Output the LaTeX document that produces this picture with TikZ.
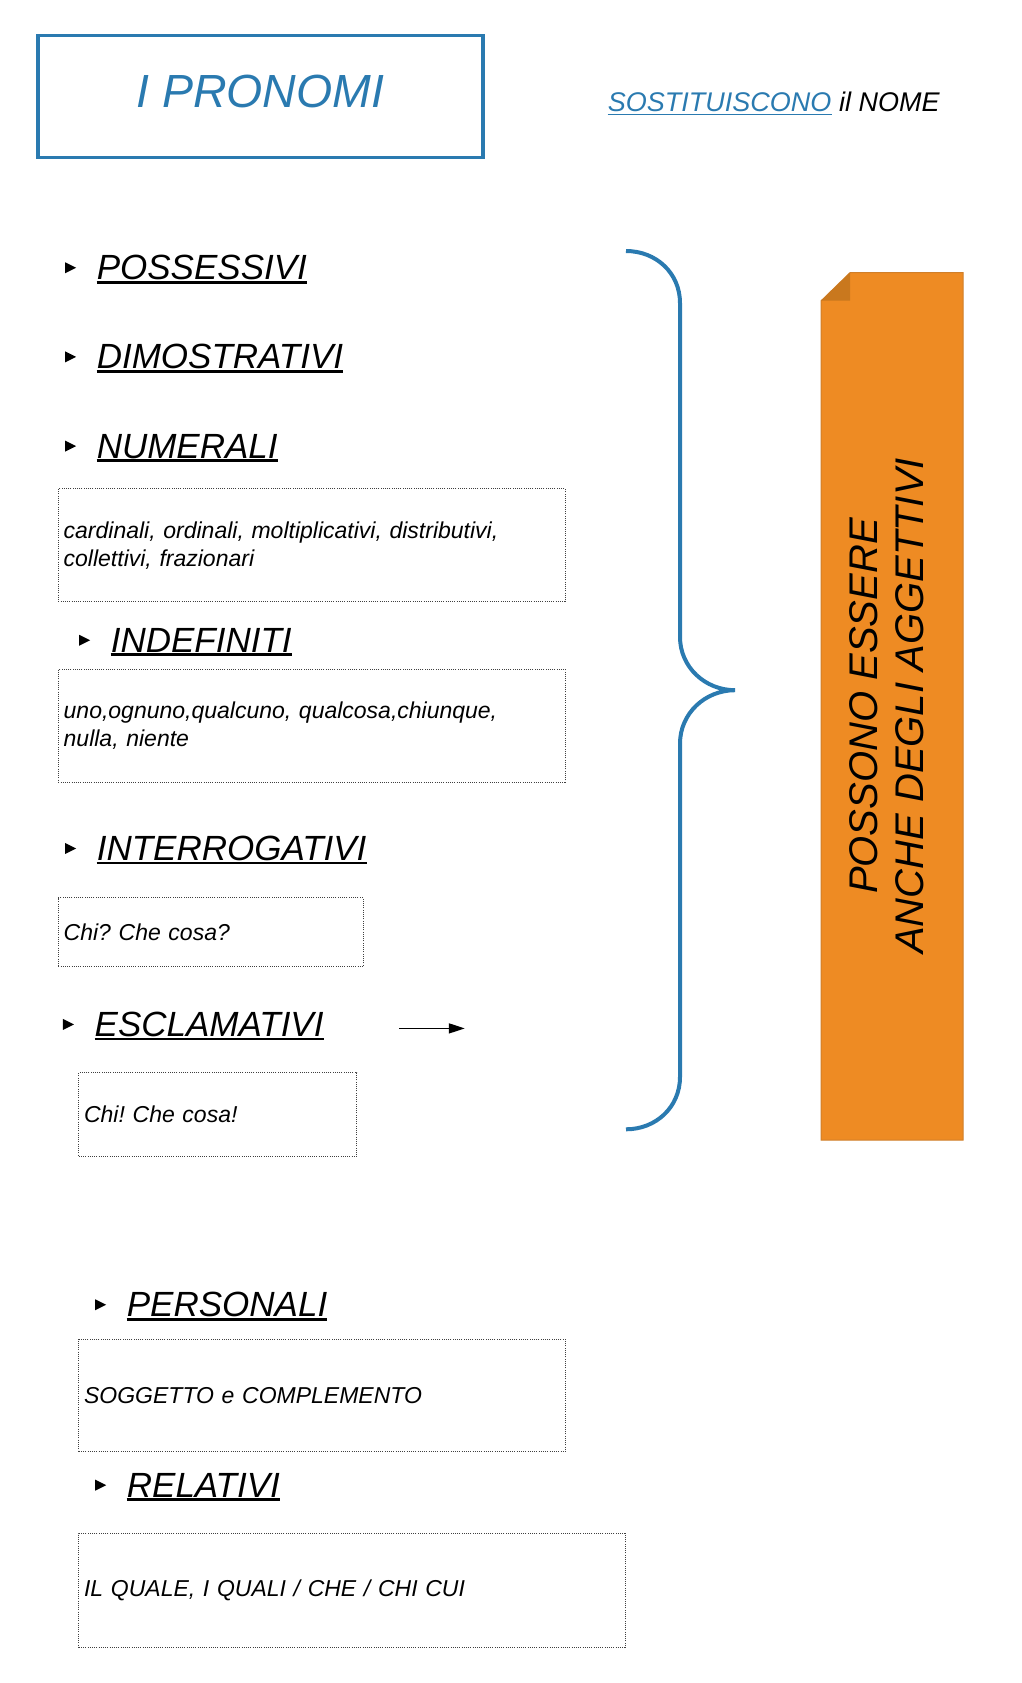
\documentclass[tikz,border=0pt]{standalone}
\usepackage{fontspec}
\setmainfont{Liberation Sans}
\usetikzlibrary{positioning, arrows.meta, shapes.geometric}
\frenchspacing

\definecolor{pblue}{HTML}{2A7AB0}
\definecolor{porange}{HTML}{EE8B23}
\definecolor{pfold}{HTML}{C9781E}
\definecolor{pedge}{HTML}{D07F2A}

\begin{document}
\begin{tikzpicture}[
    x=1pt, y=-1pt,
    every node/.style = {font=\itshape},
    titlebox/.style = {rectangle, draw=pblue, line width=3.5pt, text=pblue,
                       minimum width=445pt, minimum height=122pt, text depth=10pt,
                       font=\itshape\fontsize{46.5}{54}\selectfont},
    head/.style     = {anchor=base west, inner sep=0pt,
                       font=\itshape\fontsize{35}{42}\selectfont},
    bul/.style      = {isosceles triangle, isosceles triangle stretches, fill,
                       inner sep=0pt, minimum width=11pt, minimum height=11pt},
    txtbox/.style   = {rectangle, draw=black!75, line width=0.8pt,
                       dash pattern=on 1pt off 1.2pt, anchor=north west,
                       align=left, inner xsep=5.3pt, inner ysep=0pt,
                       font=\itshape\fontsize{23}{28}\selectfont},
    uline/.style    = {line width=2.7pt},
    brace/.style    = {draw=pblue, line width=4pt},
    arr/.style      = {-{Triangle[length=16pt, width=10pt]}, line width=1.5pt},
    banner/.style   = {rotate=90, align=center,
                       font=\itshape\fontsize{40}{46}\selectfont}
]
\useasboundingbox (0,0) rectangle (1022,1683);

% title and subtitle
\node[titlebox] (title) at (260.3,96.6) {I PRONOMI};
\node[anchor=base west, inner sep=0pt, text=pblue,
      font=\itshape\fontsize{27}{32}\selectfont] (sost) at (607.6,111.6) {SOSTITUISCONO};
\node[anchor=base west, inner sep=0pt, xshift=7.5pt,
      font=\itshape\fontsize{27}{32}\selectfont] (nome) at (sost.base east) {il NOME};
\draw[pblue, line width=1.6pt] ([yshift=-3pt]sost.base west) -- ([yshift=-3pt]sost.base east);

% headings
\node[head] (pos)  at (96.6,279.8)   {POSSESSIVI};
\node[head] (dim)  at (96.6,368.9)   {DIMOSTRATIVI};
\node[head] (num)  at (96.6,458)     {NUMERALI};
\node[head] (ind)  at (110.6,652.3)  {INDEFINITI};
\node[head] (intr) at (96.6,860.5)   {INTERROGATIVI};
\node[head] (escl) at (94.5,1036.5)  {ESCLAMATIVI};
\node[head] (pers) at (126.7,1316.8) {PERSONALI};
\node[head] (rel)  at (126.7,1497.2) {RELATIVI};

\foreach \h in {pos,dim,num,ind,intr,escl,pers,rel} {
    \node[bul, left=20pt of \h] (b\h) {};
    \draw[uline] ([yshift=-2.5pt]\h.base west) -- ([yshift=-2.5pt]\h.base east);
}

% boxes
\node[txtbox, text width=496.1pt, minimum height=112.8pt] (card) at (58,488.4)
    {cardinali, ordinali, moltiplicativi, distributivi,\\ collettivi, frazionari};
\node[txtbox, text width=496.1pt, minimum height=112.7pt] (uno) at (58,668.8)
    {uno,ognuno,qualcuno, qualcosa,chiunque,\\ nulla, niente};
\node[txtbox, text width=294.2pt, minimum height=68.8pt] (chiq) at (58,897.4)
    {Chi? Che cosa?};
\node[txtbox, text width=267.4pt, minimum height=83.8pt] (chie) at (78.4,1072.4)
    {Chi! Che cosa!};
\node[txtbox, text width=475.7pt, minimum height=112.7pt] (sogg) at (78.4,1338.7)
    {SOGGETTO e COMPLEMENTO};
\node[txtbox, text width=535.8pt, minimum height=113.8pt] (qual) at (78.4,1533)
    {IL QUALE, I QUALI / CHE / CHI CUI};

% arrow
\coordinate (a1) at (399.3,1028.4);
\coordinate (a2) at (464.8,1028.4);
\draw[arr] (a1) -- (a2);

% brace
\coordinate (btop) at (626,251);
\coordinate (btip) at (735,690.2);
\coordinate (bbot) at (626,1129.3);
\draw[brace] (btop) .. controls (656,251) and (680,273) .. (680,303)
    -- (680,637) .. controls (680,667) and (705,690.2) .. (btip)
    .. controls (705,690.2) and (680,713.5) .. (680,743.5)
    -- (680,1077) .. controls (680,1107) and (656,1129.3) .. (bbot);

% banner
\filldraw[fill=porange, draw=pedge, line width=1pt]
    (850,272.7) -- (963,272.7) -- (963,1140) -- (821.2,1140) -- (821.2,300.7) -- cycle;
\fill[pfold] (850,272.7) -- (850,300.7) -- (821.2,300.7) -- cycle;
\node[banner] (ban) at (887,706) {POSSONO ESSERE\\ ANCHE DEGLI AGGETTIVI};
\end{tikzpicture}
\end{document}
